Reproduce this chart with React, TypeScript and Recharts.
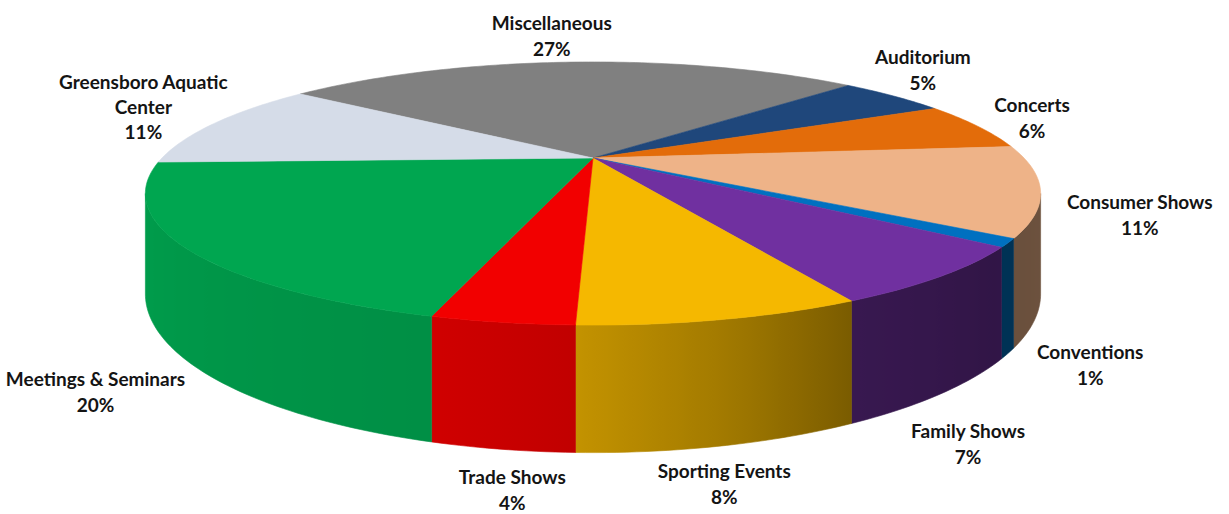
import { Cell, Pie, PieChart } from "recharts";

const CATEGORIES = [
  "Miscellaneous",
  "Auditorium",
  "Concerts",
  "Consumer Shows",
  "Conventions",
  "Family Shows",
  "Sporting Events",
  "Trade Shows",
  "Meetings & Seminars",
  "Greensboro Aquatic Center",
];
const SHARES = [27, 5, 6, 11, 1, 7, 8, 4, 20, 11];

const COLORS = [
  "#808080",
  "#1f477b",
  "#e36c0a",
  "#eeb388",
  "#0070c0",
  "#7030a0",
  "#f5b800",
  "#f20000",
  "#00a650",
  "#d5dce8",
];

// nudges from the projected mid-angle anchor, to mimic Excel's label placement
const LABEL_NUDGE: [number, number][] = [
  [-16, -12],
  [-21, -16],
  [-16, -2],
  [2, -7],
  [-20, 36],
  [-65, 46],
  [-35, -6],
  [37, -6],
  [12, 53],
  [-2, -10],
];

const data = CATEGORIES.map((name, i) => ({ name, value: SHARES[i] }));

// fake 3D: perspective-squashed disc with an extruded rim
const TILT = 0.283;
const PERSP = 0.27;
const DEPTH = 0.216;
const RIM_LIMIT = (Math.asin(PERSP) * 180) / Math.PI;

const SHADE_STOPS: [number, number][] = [
  [-180, 0.97],
  [-106, 0.86],
  [-92, 0.8],
  [-77, 0.66],
  [-63, 0.5],
  [-40, 0.44],
  [0, 0.47],
];

function project(cx: number, cy: number, r: number, deg: number, rho = 1) {
  const t = (deg * Math.PI) / 180;
  const u = rho * Math.cos(t);
  const v = rho * Math.sin(t);
  const w = 1 + PERSP * v;
  return { x: cx + (r * u) / w, y: cy - (r * TILT * v) / w, w };
}

function shadeFor(deg: number) {
  let d = ((deg % 360) + 360) % 360 - 360; // -> (-360, 0]
  if (d < -180) d += 360;
  for (let i = 1; i < SHADE_STOPS.length; i++) {
    const [a0, f0] = SHADE_STOPS[i - 1];
    const [a1, f1] = SHADE_STOPS[i];
    if (d <= a1) return f0 + ((d - a0) / (a1 - a0)) * (f1 - f0);
  }
  return SHADE_STOPS[SHADE_STOPS.length - 1][1];
}

function darken(hex: string, f: number) {
  const n = parseInt(hex.slice(1), 16);
  const r = Math.round(((n >> 16) & 255) * f);
  const g = Math.round(((n >> 8) & 255) * f);
  const b = Math.round((n & 255) * f);
  return `rgb(${r},${g},${b})`;
}

function Slice3D(props: any) {
  const { cx, cy, outerRadius: r, startAngle, endAngle, fill, index } = props;
  const a0 = Math.min(startAngle, endAngle);
  const a1 = Math.max(startAngle, endAngle);
  const drop = r * DEPTH;

  const steps = Math.max(2, Math.ceil(a1 - a0));
  let top = `M${cx},${cy}`;
  for (let i = 0; i <= steps; i++) {
    const p = project(cx, cy, r, a0 + ((a1 - a0) * i) / steps);
    top += `L${p.x},${p.y}`;
  }
  top += "Z";

  const sides: JSX.Element[] = [];
  const defs: JSX.Element[] = [];
  for (let n = -2; n <= 2; n++) {
    const lo = Math.max(a0, -180 + RIM_LIMIT + 360 * n);
    const hi = Math.min(a1, -RIM_LIMIT + 360 * n);
    if (hi <= lo) continue;
    const segs = Math.max(2, Math.ceil(hi - lo));
    const upper: { x: number; y: number; w: number }[] = [];
    for (let i = 0; i <= segs; i++) {
      upper.push(project(cx, cy, r, lo + ((hi - lo) * i) / segs));
    }
    let d = `M${upper[0].x},${upper[0].y}`;
    upper.forEach((p) => (d += `L${p.x},${p.y}`));
    for (let i = upper.length - 1; i >= 0; i--) {
      d += `L${upper[i].x},${upper[i].y + drop / upper[i].w}`;
    }
    d += "Z";

    const xMin = upper[0].x;
    const xMax = upper[upper.length - 1].x;
    const span = Math.max(1e-6, xMax - xMin);
    const id = `rim-${index}-${n + 2}`;
    defs.push(
      <linearGradient key={id} id={id} gradientUnits="userSpaceOnUse" x1={xMin} y1={0} x2={xMax} y2={0}>
        {upper.map((p, i) => (
          <stop
            key={i}
            offset={Math.min(1, Math.max(0, (p.x - xMin) / span))}
            stopColor={darken(fill, shadeFor(lo + ((hi - lo) * i) / segs))}
          />
        ))}
      </linearGradient>
    );
    sides.push(<path key={id} d={d} fill={`url(#${id})`} stroke={`url(#${id})`} strokeWidth={0.6} />);
  }

  return (
    <g>
      <defs>{defs}</defs>
      {sides}
      <path d={top} fill={fill} stroke={fill} strokeWidth={0.6} />
    </g>
  );
}

function SliceLabel(props: any) {
  const { cx, cy, outerRadius: r, midAngle, index, name, value } = props;
  const anchor = project(cx, cy, r, midAngle, 1.2);
  const s = Math.sin((midAngle * Math.PI) / 180);
  const dropY = (r * DEPTH * Math.max(0, -s)) / (1 + PERSP * s);
  const [dx, dy] = LABEL_NUDGE[index] ?? [0, 0];
  const x = anchor.x + dx;
  const yc = anchor.y + dropY + dy;

  const label = String(name);
  let nameLines = [label];
  if (label.length > 20) {
    const cut = label.lastIndexOf(" ");
    nameLines = [label.slice(0, cut), label.slice(cut + 1)];
  }
  const lines = [...nameLines, `${value}%`];
  const lh = lines.length > 2 ? 25 : 26;
  const first = yc - ((lines.length - 1) * lh) / 2 + 7;

  return (
    <text
      x={x}
      y={first}
      textAnchor="middle"
      fontFamily="Lato, 'Open Sans', sans-serif"
      fontWeight={700}
      fontSize={19}
      fill="#141414"
    >
      {lines.map((t, i) => (
        <tspan key={i} x={x} y={first + i * lh}>
          {t}
        </tspan>
      ))}
    </text>
  );
}

export default function App() {
  return (
    <div
      style={{
        position: "absolute",
        left: 0,
        top: 0,
        width: 1229,
        height: 514,
        background: "#ffffff",
      }}
    >
      <PieChart width={1229} height={514} margin={{ top: 0, right: 0, bottom: 0, left: 0 }}>
        <Pie
          data={data}
          dataKey="value"
          nameKey="name"
          cx={593}
          cy={158}
          outerRadius={431}
          startAngle={142.3}
          endAngle={-217.7}
          stroke="none"
          shape={Slice3D}
          activeShape={Slice3D}
          inactiveShape={Slice3D}
          label={SliceLabel}
          labelLine={false}
          isAnimationActive={false}
        >
          {data.map((d, i) => (
            <Cell key={d.name} fill={COLORS[i]} />
          ))}
        </Pie>
      </PieChart>
    </div>
  );
}
